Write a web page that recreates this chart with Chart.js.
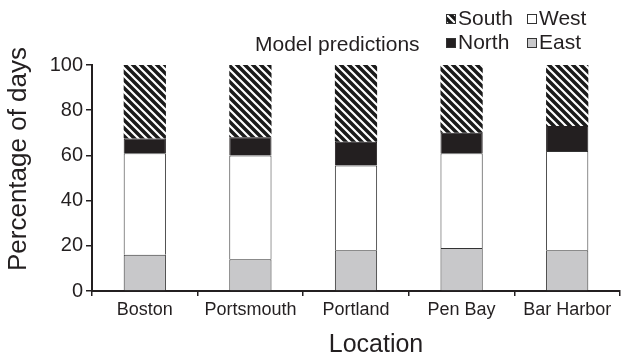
<!DOCTYPE html>
<html>
<head>
<meta charset="utf-8">
<script src="https://cdn.jsdelivr.net/npm/chart.js@4"></script>
<style>
  html, body { margin: 0; padding: 0; background: #fff; }
  #wrap { width: 627px; height: 357px; }
</style>
</head>
<body>
<div id="wrap"><canvas id="barChart"></canvas></div>
<script>
var locations = ["Boston", "Portsmouth", "Portland", "Pen Bay", "Bar Harbor"];
var east  = [16, 14, 18, 19, 18];
var west  = [45, 46, 37.5, 42, 44];
var north = [6.5, 8, 10.5, 9, 11];
var south = [32.5, 32, 34, 30, 27];
var yTicks = [0, 20, 40, 60, 80, 100];

function hatch() {
    var c = document.createElement("canvas");
    c.width = 8; c.height = 8;
    var g = c.getContext("2d");
    g.fillStyle = "#1a1a1a";
    g.fillRect(0, 0, 8, 8);
    g.strokeStyle = "#fff";
    g.lineWidth = 2.2;
    g.beginPath();
    g.moveTo(-2, -2); g.lineTo(10, 10);
    g.moveTo(-6, 2); g.lineTo(2, 10);
    g.moveTo(6, -2); g.lineTo(14, 6);
    g.stroke();
    return g.createPattern(c, "repeat");
}
var southFill = hatch();
var font = "'Liberation Sans', Arial, sans-serif";
var ink = "#231f20";

// legend block, "Model predictions" and the two axis titles
var textPlugin = {
    id: "extraText",
    afterDraw: function (chart) {
        var ctx = chart.ctx;
        var area = chart.chartArea;
        ctx.save();
        ctx.fillStyle = ink;
        ctx.textBaseline = "middle";

        ctx.font = "25px " + font;
        ctx.textAlign = "center";
        ctx.fillText("Location", (area.left + area.right) / 2 + 20, 345);
        ctx.save();
        ctx.translate(19, (area.top + area.bottom) / 2 - 19);
        ctx.rotate(-Math.PI / 2);
        ctx.font = "26px " + font;
        ctx.fillText("Percentage of days", 0, 0);
        ctx.restore();

        ctx.textAlign = "left";
        ctx.font = "21px " + font;
        ctx.fillText("Model predictions", 255, 45);

        var items = [
            { ds: 3, x: 446, y: 19 },
            { ds: 1, x: 527, y: 19 },
            { ds: 2, x: 446, y: 43 },
            { ds: 0, x: 527, y: 43 }
        ];
        items.forEach(function (it) {
            var d = chart.data.datasets[it.ds];
            ctx.fillStyle = d.backgroundColor;
            ctx.fillRect(it.x, it.y - 5, 10, 10);
            ctx.strokeStyle = "#333";
            ctx.lineWidth = 1;
            ctx.strokeRect(it.x + 0.5, it.y - 4.5, 9, 9);
            ctx.fillStyle = ink;
            ctx.fillText(d.label, it.x + 12, it.y);
        });
        ctx.restore();
    }
};

new Chart("barChart", {
    type: "bar",
    data: {
        labels: locations,
        datasets: [
            { label: "East", data: east, backgroundColor: "#c8c8ca", borderColor: "#333", borderWidth: 1 },
            { label: "West", data: west, backgroundColor: "#fff", borderColor: "#333", borderWidth: 1 },
            { label: "North", data: north, backgroundColor: ink, borderColor: ink, borderWidth: 1 },
            { label: "South", data: south, backgroundColor: southFill, borderColor: "#1a1a1a", borderWidth: 0 }
        ]
    },
    options: {
        responsive: true,
        maintainAspectRatio: false,
        animation: false,
        layout: { padding: { top: 65, right: 7, left: 0, bottom: 0 } },
        plugins: {
            legend: { display: false },
            tooltip: { enabled: false }
        },
        datasets: {
            bar: { barPercentage: 0.4, categoryPercentage: 1 }
        },
        scales: {
            x: {
                stacked: true,
                afterFit: function (axis) { axis.height = 66; },
                border: { color: ink, width: 2 },
                grid: { offset: true, drawOnChartArea: false, drawTicks: true, tickLength: 5, color: ink, lineWidth: 1.5 },
                ticks: { color: ink, font: { family: font, size: 18 }, padding: 3 }
            },
            y: {
                stacked: true,
                min: 0,
                max: 100,
                afterFit: function (axis) { axis.width = 92; },
                afterBuildTicks: function (axis) {
                    axis.ticks = yTicks.map(function (v) { return { value: v }; });
                },
                border: { color: ink, width: 2 },
                grid: { drawOnChartArea: false, drawTicks: true, tickLength: 6, color: ink, lineWidth: 1.5 },
                ticks: { color: ink, font: { family: font, size: 20 }, padding: 3 }
            }
        }
    },
    plugins: [textPlugin]
});
</script>
</body>
</html>
